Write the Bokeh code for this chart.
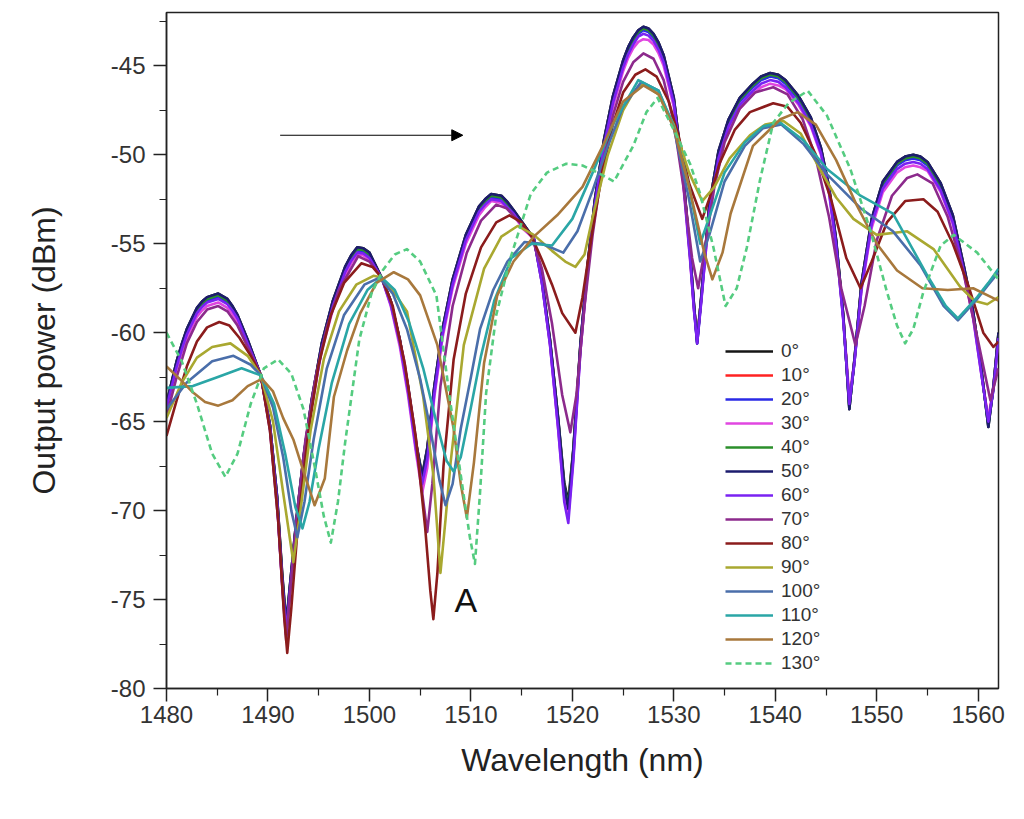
from bokeh.embed import file_html
from bokeh.models import (Arrow, FixedTicker, Label, NormalHead, PrintfTickFormatter, Range1d)
from bokeh.plotting import figure
from bokeh.resources import INLINE

FONT = "Liberation Sans"

x_ticks = [1480, 1490, 1500, 1510, 1520, 1530, 1540, 1550, 1560]
x_minor = [1485, 1495, 1505, 1515, 1525, 1535, 1545, 1555]
y_ticks = [-80, -75, -70, -65, -60, -55, -50, -45]
y_minor = [-77.5, -72.5, -67.5, -62.5, -57.5, -52.5, -47.5, -42.5]

# arrow and the "A" note (data units)
arrow_from = (1491.2, -48.9)
arrow_to = (1509.2, -48.9)
note_a = (1509.5, -75.0)

# 0 to 60 degrees share one wavelength grid
wl_a = [1480.0, 1481.0, 1481.5, 1482.0, 1483.0, 1483.5, 1484.0, 1485.1, 1486.0, 1486.5,
        1487.0, 1488.0, 1489.3, 1490.2, 1490.9, 1491.4, 1491.8, 1492.2, 1492.8, 1493.5,
        1494.3, 1495.3, 1496.4, 1497.6, 1498.2, 1498.8, 1499.4, 1500.0, 1501.2, 1502.1,
        1503.0, 1503.8, 1504.6, 1505.2, 1505.7, 1506.4, 1507.2, 1508.2, 1509.5, 1510.8,
        1511.4, 1512.0, 1513.0, 1513.6, 1514.2, 1515.2, 1516.2, 1517.0, 1517.8, 1518.6,
        1519.2, 1519.6, 1520.1, 1520.8, 1521.5, 1522.2, 1523.1, 1524.0, 1525.0, 1525.5,
        1526.0, 1526.5, 1527.0, 1527.5, 1528.0, 1528.5, 1529.0, 1530.0, 1530.9, 1531.6,
        1532.0, 1532.3, 1532.7, 1533.5, 1534.4, 1535.4, 1536.5, 1537.8, 1538.6, 1539.5,
        1540.3, 1541.0, 1542.3, 1543.5, 1544.5, 1545.3, 1546.0, 1546.7, 1547.3, 1547.8,
        1548.5, 1549.5, 1550.6, 1552.0, 1552.8, 1553.6, 1554.3, 1555.0, 1556.3, 1557.5,
        1558.6, 1559.5, 1560.3, 1561.0, 1561.5, 1562.0]

pw_0 = [-64.0, -61.6, -60.65, -59.8, -58.6, -58.25, -58.0, -57.8, -58.1, -58.5,
        -59.0, -60.4, -62.4, -65.2, -69.2, -73.5, -76.3, -74.0, -70.5, -67.0,
        -63.8, -60.6, -58.2, -56.3, -55.65, -55.2, -55.25, -55.5, -56.9, -58.2,
        -60.4, -63.0, -66.2, -68.0, -66.5, -63.0, -59.8, -57.0, -54.5, -52.9,
        -52.5, -52.2, -52.3, -52.65, -53.1, -53.9, -54.7, -57.0, -60.4, -64.8,
        -68.4, -69.5, -66.5, -60.6, -56.2, -52.6, -49.2, -46.7, -44.7, -43.95,
        -43.4, -43.0, -42.8, -42.9, -43.2, -43.7, -44.4, -46.8, -51.0, -55.5,
        -58.5, -60.5, -58.0, -52.8, -49.8, -48.0, -46.8, -46.0, -45.6, -45.4,
        -45.5, -45.8, -46.7, -47.9, -49.6, -51.8, -54.8, -59.0, -64.3, -61.5,
        -57.2, -53.6, -51.5, -50.4, -50.1, -50.0, -50.1, -50.4, -51.6, -53.4,
        -56.3, -58.8, -62.0, -65.3, -63.0, -60.0]

pw_10 = [-64.1, -61.7, -60.75, -59.9, -58.7, -58.35, -58.1, -57.9, -58.2, -58.6,
         -59.1, -60.5, -62.4, -65.3, -69.4, -73.8, -76.8, -74.2, -70.6, -67.1,
         -63.9, -60.7, -58.3, -56.4, -55.75, -55.3, -55.35, -55.6, -56.9, -58.3,
         -60.5, -63.1, -66.3, -68.2, -66.6, -63.1, -59.9, -57.1, -54.6, -53.0,
         -52.6, -52.3, -52.4, -52.75, -53.2, -54.0, -54.7, -57.1, -60.5, -65.0,
         -68.7, -69.8, -66.7, -60.7, -56.3, -52.7, -49.3, -46.8, -44.8, -44.05,
         -43.5, -43.1, -42.9, -43.0, -43.3, -43.8, -44.5, -46.9, -51.1, -55.6,
         -58.6, -60.3, -58.1, -52.9, -49.9, -48.1, -46.9, -46.1, -45.7, -45.5,
         -45.6, -45.9, -46.8, -48.0, -49.7, -51.9, -54.9, -59.1, -64.0, -61.6,
         -57.3, -53.7, -51.6, -50.5, -50.2, -50.1, -50.2, -50.5, -51.7, -53.5,
         -56.4, -58.9, -62.1, -65.0, -63.1, -60.1]

pw_20 = [-64.1, -61.8, -60.85, -60.0, -58.8, -58.45, -58.2, -58.0, -58.3, -58.7,
         -59.2, -60.6, -62.4, -65.3, -69.5, -74.0, -77.0, -74.3, -70.7, -67.2,
         -64.0, -60.8, -58.4, -56.5, -55.85, -55.4, -55.45, -55.7, -56.9, -58.4,
         -60.6, -63.2, -66.4, -68.4, -66.8, -63.2, -60.0, -57.2, -54.7, -53.1,
         -52.7, -52.4, -52.5, -52.85, -53.3, -54.1, -54.7, -57.2, -60.6, -65.2,
         -69.0, -70.2, -66.9, -60.8, -56.4, -52.8, -49.4, -46.9, -44.9, -44.15,
         -43.6, -43.2, -43.0, -43.1, -43.4, -43.9, -44.6, -47.0, -51.2, -55.7,
         -58.7, -60.6, -58.2, -53.0, -50.0, -48.2, -47.0, -46.2, -45.8, -45.6,
         -45.7, -46.0, -46.9, -48.1, -49.8, -52.0, -55.0, -59.2, -64.1, -61.7,
         -57.4, -53.8, -51.7, -50.6, -50.3, -50.2, -50.3, -50.6, -51.8, -53.6,
         -56.5, -59.0, -62.2, -65.1, -63.2, -60.2]

pw_30 = [-64.2, -62.0, -61.1, -60.3, -59.1, -58.75, -58.5, -58.3, -58.6, -58.95,
         -59.4, -60.8, -62.4, -65.4, -69.6, -74.2, -77.0, -74.4, -70.8, -67.3,
         -64.2, -61.0, -58.7, -56.8, -56.1, -55.6, -55.65, -55.9, -56.9, -58.5,
         -60.8, -63.5, -66.8, -69.0, -67.6, -63.6, -60.3, -57.5, -55.0, -53.4,
         -52.95, -52.6, -52.7, -53.0, -53.4, -54.2, -54.7, -57.2, -60.7, -65.4,
         -69.2, -70.3, -67.0, -61.0, -56.6, -53.0, -49.7, -47.3, -45.3, -44.55,
         -44.0, -43.65, -43.5, -43.55, -43.8, -44.3, -45.0, -47.3, -51.5, -55.9,
         -58.8, -60.2, -58.2, -53.3, -50.3, -48.5, -47.4, -46.6, -46.2, -46.0,
         -46.1, -46.3, -47.2, -48.4, -50.0, -52.2, -55.2, -59.2, -63.6, -61.6,
         -57.6, -54.1, -52.1, -51.0, -50.7, -50.6, -50.7, -50.9, -52.1, -53.9,
         -56.7, -59.2, -62.3, -64.8, -63.0, -60.4]

pw_40 = [-64.0, -61.7, -60.75, -59.9, -58.7, -58.35, -58.1, -57.9, -58.2, -58.6,
         -59.1, -60.5, -62.4, -65.2, -69.3, -73.7, -76.6, -74.1, -70.6, -67.1,
         -63.9, -60.7, -58.3, -56.4, -55.75, -55.3, -55.35, -55.6, -56.9, -58.3,
         -60.5, -63.1, -66.3, -68.1, -66.6, -63.1, -59.9, -57.1, -54.6, -53.0,
         -52.6, -52.3, -52.4, -52.75, -53.2, -54.0, -54.7, -57.1, -60.5, -64.9,
         -68.6, -69.7, -66.6, -60.7, -56.3, -52.7, -49.3, -46.8, -44.8, -44.05,
         -43.5, -43.1, -42.9, -43.0, -43.3, -43.8, -44.5, -46.9, -51.1, -55.6,
         -58.6, -60.4, -58.1, -52.9, -49.9, -48.1, -46.9, -46.1, -45.7, -45.5,
         -45.6, -45.9, -46.8, -48.0, -49.7, -51.9, -54.9, -59.1, -64.2, -61.6,
         -57.3, -53.7, -51.6, -50.5, -50.2, -50.1, -50.2, -50.5, -51.7, -53.5,
         -56.4, -58.9, -62.1, -65.2, -63.1, -60.1]

pw_50 = [-64.0, -61.6, -60.65, -59.8, -58.6, -58.25, -58.0, -57.8, -58.1, -58.5,
         -59.0, -60.4, -62.4, -65.2, -69.2, -73.6, -76.5, -74.0, -70.5, -67.0,
         -63.8, -60.6, -58.2, -56.3, -55.65, -55.2, -55.25, -55.5, -56.9, -58.2,
         -60.4, -63.0, -66.2, -68.1, -66.5, -63.0, -59.8, -57.0, -54.5, -52.9,
         -52.5, -52.2, -52.3, -52.65, -53.1, -53.9, -54.7, -57.0, -60.4, -64.8,
         -68.6, -69.9, -66.6, -60.6, -56.2, -52.6, -49.2, -46.7, -44.7, -43.95,
         -43.4, -43.0, -42.8, -42.9, -43.2, -43.7, -44.4, -46.8, -51.0, -55.5,
         -58.5, -60.6, -58.0, -52.8, -49.8, -48.0, -46.8, -46.0, -45.6, -45.4,
         -45.5, -45.8, -46.7, -47.9, -49.6, -51.8, -54.8, -59.0, -64.3, -61.5,
         -57.2, -53.6, -51.5, -50.4, -50.1, -50.0, -50.1, -50.4, -51.6, -53.4,
         -56.3, -58.8, -62.0, -65.3, -63.0, -60.0]

pw_60 = [-64.2, -61.9, -60.95, -60.1, -58.9, -58.55, -58.3, -58.1, -58.4, -58.75,
         -59.2, -60.6, -62.4, -65.3, -69.5, -74.0, -76.8, -74.3, -70.7, -67.2,
         -64.1, -60.9, -58.5, -56.6, -55.95, -55.5, -55.55, -55.8, -56.9, -58.4,
         -60.6, -63.3, -66.6, -68.5, -67.1, -63.4, -60.1, -57.3, -54.8, -53.2,
         -52.8, -52.5, -52.6, -52.95, -53.3, -54.1, -54.7, -57.2, -60.7, -65.4,
         -69.5, -70.7, -67.2, -61.0, -56.5, -52.9, -49.5, -47.1, -45.1, -44.35,
         -43.8, -43.35, -43.2, -43.3, -43.6, -44.1, -44.8, -47.1, -51.3, -55.8,
         -58.8, -60.6, -58.3, -53.2, -50.2, -48.4, -47.2, -46.4, -46.0, -45.8,
         -45.9, -46.2, -47.1, -48.3, -49.9, -52.1, -55.1, -59.3, -64.0, -61.7,
         -57.5, -53.9, -51.9, -50.8, -50.5, -50.4, -50.5, -50.8, -52.0, -53.8,
         -56.6, -59.1, -62.3, -65.0, -63.2, -60.3]

wl_70 = [1480.0, 1481.0, 1482.0, 1483.0, 1484.0, 1485.1, 1486.0, 1487.0, 1488.0, 1489.3,
         1490.2, 1491.0, 1491.5, 1491.8, 1492.2, 1492.9, 1493.7, 1494.7, 1495.8, 1497.0,
         1498.9, 1500.0, 1501.2, 1502.2, 1503.4, 1504.4, 1505.2, 1505.7, 1506.2, 1507.0,
         1508.2, 1509.6, 1511.0, 1512.5, 1513.5, 1514.8, 1516.0, 1517.0, 1518.0, 1519.0,
         1519.8, 1520.4, 1521.2, 1522.0, 1523.0, 1524.0, 1525.0, 1526.0, 1527.0, 1528.0,
         1529.0, 1530.0, 1531.0, 1531.8, 1532.4, 1533.0, 1534.0, 1535.0, 1536.5, 1538.0,
         1539.8, 1541.2, 1542.7, 1544.0, 1545.3, 1546.5, 1547.9, 1548.8, 1550.0, 1551.5,
         1553.0, 1554.0, 1555.5, 1557.0, 1558.5, 1560.0, 1561.2, 1562.0]
pw_70 = [-64.7, -62.5, -60.6, -59.4, -58.7, -58.5, -58.8, -59.6, -60.8, -62.4,
         -65.5, -70.5, -75.0, -77.3, -74.5, -70.0, -66.0, -62.5, -59.7, -57.6,
         -55.7, -56.0, -56.9, -58.4, -61.5, -65.2, -69.0, -71.2, -68.5, -63.0,
         -58.5, -55.5, -53.7, -52.8, -53.0, -53.8, -54.6, -56.4, -59.5, -63.5,
         -65.6, -63.5, -58.5, -54.5, -50.5, -47.8, -45.9, -44.8, -44.3, -44.6,
         -45.8, -48.2, -52.0, -55.8, -57.5, -55.5, -51.8, -49.3, -47.4, -46.5,
         -46.2, -46.6, -48.0, -50.2, -53.5, -57.5, -60.7, -58.5, -54.8, -52.3,
         -51.3, -51.1, -51.6, -53.5, -56.5, -60.5, -63.8, -62.0]

wl_80 = [1480.0, 1481.0, 1482.0, 1483.0, 1484.0, 1485.2, 1486.2, 1487.2, 1488.3, 1489.3,
         1490.2, 1491.0, 1491.6, 1491.9, 1492.3, 1493.0, 1494.0, 1495.0, 1496.2, 1497.5,
         1499.2, 1500.3, 1501.2, 1502.3, 1503.5, 1504.6, 1505.5, 1506.0, 1506.3, 1506.7,
         1507.3, 1508.3, 1509.5, 1511.0, 1512.5, 1513.8, 1515.0, 1516.0, 1517.0, 1518.0,
         1519.0, 1520.3, 1521.0, 1522.0, 1523.0, 1524.0, 1525.0, 1526.2, 1527.2, 1528.3,
         1529.5, 1530.5, 1531.5, 1532.8, 1533.6, 1534.5, 1536.0, 1537.5, 1539.8, 1541.2,
         1542.5, 1544.0, 1545.5, 1547.0, 1548.4, 1549.5, 1551.0, 1552.8, 1554.6, 1556.0,
         1557.5, 1559.0, 1560.5, 1561.5, 1562.0]
pw_80 = [-65.8, -63.8, -61.9, -60.5, -59.7, -59.4, -59.6, -60.3, -61.3, -62.4,
         -65.5, -70.5, -76.0, -78.0, -75.5, -70.5, -65.5, -61.8, -59.0, -57.2,
         -56.1, -56.3, -56.9, -58.5, -61.8, -66.0, -71.0, -74.5, -76.1, -73.5,
         -67.5, -61.5, -57.8, -55.2, -53.8, -53.4, -53.8, -54.6, -55.9, -57.3,
         -58.9, -60.0, -58.0, -54.2, -50.8, -48.3, -46.5, -45.5, -45.2, -45.6,
         -47.0, -49.0, -51.6, -53.6, -52.3, -50.5, -48.6, -47.6, -47.1, -47.3,
         -48.2, -50.0, -52.5, -55.8, -57.5, -56.0, -53.8, -52.6, -52.5, -53.2,
         -55.0, -57.3, -60.0, -60.8, -60.5]

wl_90 = [1480.0, 1481.5, 1483.0, 1484.5, 1486.3, 1488.0, 1489.3, 1490.5, 1491.5, 1492.5,
         1493.2, 1494.2, 1495.5, 1497.0, 1498.7, 1500.4, 1501.2, 1502.5, 1503.7, 1505.3,
         1506.3, 1507.0, 1507.5, 1508.0, 1509.3, 1511.3, 1513.0, 1514.6, 1516.2, 1518.0,
         1519.3, 1520.3, 1521.2, 1522.0, 1523.5, 1525.0, 1526.0, 1527.0, 1528.5, 1530.0,
         1531.5, 1532.8, 1534.0, 1535.5, 1537.5, 1539.0, 1540.8, 1542.5, 1544.4, 1546.0,
         1547.7, 1550.0, 1553.0, 1555.6, 1558.2, 1559.6, 1560.9, 1562.0]
pw_90 = [-64.8, -62.8, -61.4, -60.8, -60.6, -61.3, -62.4, -65.0, -69.0, -72.9,
         -70.0, -65.5, -61.5, -58.8, -57.3, -56.8, -56.9, -57.8, -58.8, -63.6,
         -68.0, -73.5, -70.5, -67.3, -60.7, -56.4, -54.6, -54.0, -54.5, -55.4,
         -56.0, -56.3, -55.6, -53.5, -50.0, -47.5, -46.5, -46.0, -46.6, -48.3,
         -51.0, -52.6, -51.8, -50.2, -48.9, -48.3, -48.1, -48.8, -50.8, -52.4,
         -53.6, -54.5, -54.3, -55.3, -57.4, -58.2, -58.4, -58.0]

wl_100 = [1480.0, 1482.0, 1484.5, 1486.6, 1488.3, 1489.3, 1490.5, 1491.5, 1492.3, 1492.9,
          1493.6, 1494.5, 1495.8, 1497.5, 1499.5, 1501.0, 1502.3, 1503.7, 1505.0, 1506.0,
          1506.9, 1507.5, 1508.2, 1509.0, 1510.0, 1510.9, 1512.2, 1513.6, 1515.3, 1517.0,
          1519.1, 1520.5, 1522.0, 1523.5, 1525.0, 1526.8, 1528.5, 1530.0, 1531.5, 1532.6,
          1533.5, 1535.0, 1537.0, 1538.8, 1540.6, 1542.8, 1545.1, 1548.4, 1551.6, 1554.3,
          1556.6, 1558.0, 1559.9, 1561.0, 1562.0]
pw_100 = [-64.3, -62.8, -61.6, -61.3, -61.8, -62.4, -64.2, -67.0, -70.0, -71.5,
          -69.5, -66.0, -62.0, -59.0, -57.3, -56.9, -57.8, -59.8, -62.6, -65.4,
          -68.3, -69.7, -68.5, -65.4, -62.5, -59.8, -57.6, -56.0, -54.9, -55.0,
          -55.5, -54.3, -52.0, -49.5, -47.3, -45.9, -46.4, -48.5, -52.5, -56.0,
          -54.5, -51.5, -49.5, -48.5, -48.3, -49.4, -51.1, -53.0, -54.3, -56.2,
          -58.5, -59.3, -58.1, -57.3, -56.6]

wl_110 = [1480.0, 1482.6, 1485.0, 1487.4, 1489.3, 1490.6, 1491.7, 1492.7, 1493.4, 1494.1,
          1495.0, 1496.3, 1498.0, 1499.8, 1501.2, 1502.5, 1503.9, 1505.3, 1506.5, 1507.6,
          1508.3, 1509.0, 1510.0, 1511.0, 1512.3, 1514.0, 1516.0, 1518.0, 1520.0, 1522.0,
          1524.0, 1526.5, 1528.5, 1530.0, 1531.5, 1532.6, 1533.5, 1535.0, 1537.0, 1538.8,
          1540.5, 1542.8, 1545.1, 1548.4, 1551.6, 1555.0, 1556.8, 1558.0, 1559.9, 1561.0,
          1562.0]
pw_110 = [-63.1, -63.0, -62.5, -62.0, -62.4, -64.0, -66.8, -69.8, -71.0, -69.5,
          -66.5, -62.8, -59.5, -57.6, -56.9, -57.6, -59.4, -62.0, -64.8, -67.2,
          -67.8, -67.0, -64.2, -61.3, -58.2, -55.8, -55.0, -55.1, -53.6, -51.0,
          -48.3, -45.8, -46.4, -48.4, -51.8, -55.0, -53.5, -51.0, -49.3, -48.4,
          -48.2, -49.2, -50.8, -52.3, -53.3, -56.8, -58.5, -59.2, -58.0, -57.2,
          -56.4]

wl_120 = [1480.0, 1481.3, 1482.5, 1483.8, 1485.1, 1486.5, 1488.0, 1489.4, 1490.5, 1491.5,
          1492.5, 1493.5, 1494.6, 1495.6, 1496.5, 1497.8, 1499.1, 1500.7, 1502.4, 1503.8,
          1505.0, 1506.7, 1508.3, 1509.0, 1509.6, 1510.3, 1511.3, 1512.6, 1514.2, 1516.2,
          1518.5, 1521.0, 1523.0, 1525.0, 1527.0, 1528.5, 1530.0, 1531.5, 1533.0, 1533.8,
          1534.8, 1535.6, 1537.8, 1540.5, 1542.2, 1544.0, 1546.0, 1548.0, 1550.0, 1552.0,
          1554.5, 1557.0, 1559.5, 1562.0]
pw_120 = [-61.9, -62.6, -63.3, -63.9, -64.1, -63.8, -63.0, -62.6, -63.3, -64.8,
          -66.0, -67.8, -69.7, -68.2, -63.6, -61.0, -58.9, -57.2, -56.6, -57.0,
          -57.9, -60.7, -65.4, -68.5, -70.4, -67.3, -61.7, -57.9, -56.0, -54.6,
          -53.4, -51.8, -49.5, -47.0, -46.1, -46.6, -48.5, -51.8, -55.5, -57.0,
          -55.5, -53.3, -49.5, -48.0, -47.6, -48.3, -50.3, -52.8, -55.0, -56.5,
          -57.5, -57.6, -57.5, -58.2]

wl_130 = [1480.0, 1481.5, 1483.0, 1484.5, 1485.8, 1487.0, 1488.3, 1489.6, 1491.0, 1492.3,
          1493.5, 1494.6, 1495.5, 1496.2, 1496.9, 1497.6, 1499.0, 1500.2, 1501.3, 1502.5,
          1503.7, 1505.0, 1506.6, 1507.9, 1509.0, 1509.9, 1510.4, 1510.9, 1511.5, 1512.5,
          1513.9, 1515.9, 1517.5, 1519.4, 1521.0, 1522.5, 1524.1, 1526.0, 1527.3, 1528.4,
          1530.0, 1531.6, 1532.6, 1533.9, 1535.1, 1536.2, 1537.2, 1538.5, 1539.8, 1541.3,
          1543.2, 1545.1, 1547.4, 1549.4, 1551.0, 1552.0, 1552.8, 1553.6, 1554.6, 1556.3,
          1557.6, 1559.9, 1562.0]
pw_130 = [-60.0, -61.6, -64.0, -66.8, -68.1, -66.8, -64.0, -62.0, -61.5, -62.3,
          -64.3, -67.5, -70.3, -71.8, -69.5, -66.2, -60.4, -57.8, -56.5, -55.6,
          -55.3, -56.0, -57.9, -63.6, -68.0, -71.5, -73.0, -69.0, -63.4, -59.0,
          -55.8, -52.2, -51.0, -50.5, -50.6, -51.0, -51.5, -49.5, -47.6, -46.8,
          -48.6, -50.5, -52.2, -55.2, -58.5, -57.5, -55.2, -51.4, -48.2, -47.1,
          -46.4, -47.8, -50.8, -54.3, -57.7, -59.6, -60.6, -59.8, -57.7, -55.1,
          -54.5, -55.5, -57.0]

labels = ["0°", "10°", "20°", "30°", "40°", "50°", "60°",
          "70°", "80°", "90°", "100°", "110°", "120°", "130°"]
colors = ["#151515", "#ff2222", "#2a2ae6", "#e046e0", "#2b8f2b", "#1c1c6e", "#7a22f2",
          "#8c2a8c", "#8b1c1c", "#a9a830", "#4a6eaa", "#2aa6a6", "#a8783c", "#55cc80"]

series = [(wl_a, pw_0), (wl_a, pw_10), (wl_a, pw_20), (wl_a, pw_30), (wl_a, pw_40),
          (wl_a, pw_50), (wl_a, pw_60), (wl_70, pw_70), (wl_80, pw_80), (wl_90, pw_90),
          (wl_100, pw_100), (wl_110, pw_110), (wl_120, pw_120), (wl_130, pw_130)]

p = figure(width=1012, height=800, output_backend="svg", toolbar_location=None,
           x_range=Range1d(1480, 1562), y_range=Range1d(-80, -42))
p.min_border_left = 166
p.min_border_right = 14
p.min_border_top = 12
p.min_border_bottom = 112

for (wl, pw), lab, col in zip(series, labels, colors):
    dash = "6 4" if lab == "130°" else "solid"
    p.line(wl, pw, line_color=col, line_width=2.6, line_dash=dash,
           line_join="round", legend_label=lab)

p.add_layout(Arrow(end=NormalHead(size=11, fill_color="black", line_color="black"),
                   x_start=arrow_from[0], y_start=arrow_from[1],
                   x_end=arrow_to[0], y_end=arrow_to[1],
                   line_color="black", line_width=1.2))
p.add_layout(Label(x=note_a[0], y=note_a[1], text="A", text_font=FONT,
                   text_font_size="34px", text_color="#111111",
                   text_align="center", text_baseline="middle"))

p.grid.visible = False
p.outline_line_color = "#222222"
p.outline_line_width = 1.5

p.xaxis.ticker = FixedTicker(ticks=x_ticks, minor_ticks=x_minor)
p.yaxis.ticker = FixedTicker(ticks=y_ticks, minor_ticks=y_minor)
p.yaxis.formatter = PrintfTickFormatter(format="%d")
p.xaxis.axis_label = "Wavelength (nm)"
p.yaxis.axis_label = "Output power (dBm)"
for ax in (p.xaxis[0], p.yaxis[0]):
    ax.axis_line_color = "#222222"
    ax.axis_line_width = 1.5
    ax.major_tick_in = 0
    ax.major_tick_out = 13
    ax.minor_tick_in = 0
    ax.minor_tick_out = 7
    ax.major_tick_line_color = "#222222"
    ax.minor_tick_line_color = "#222222"
    ax.major_tick_line_width = 1.5
    ax.minor_tick_line_width = 1.2
    ax.major_label_text_font = FONT
    ax.major_label_text_font_size = "24px"
    ax.major_label_text_color = "#333333"
    ax.axis_label_text_font = FONT
    ax.axis_label_text_font_size = "32px"
    ax.axis_label_text_font_style = "normal"
    ax.axis_label_text_color = "#222222"
p.xaxis.major_label_standoff = 4
p.xaxis.axis_label_standoff = 16
p.yaxis.major_label_standoff = 8
p.yaxis.axis_label_standoff = 46

lg = p.legend[0]
lg.location = (559, 14)
lg.background_fill_alpha = 0
lg.border_line_alpha = 0
lg.padding = 0
lg.margin = 0
lg.spacing = 2
lg.glyph_width = 48
lg.glyph_height = 20
lg.label_height = 20
lg.label_standoff = 8
lg.label_text_font = FONT
lg.label_text_font_size = "19px"
lg.label_text_color = "#333333"

open("out.html", "w").write(file_html(p, INLINE))
